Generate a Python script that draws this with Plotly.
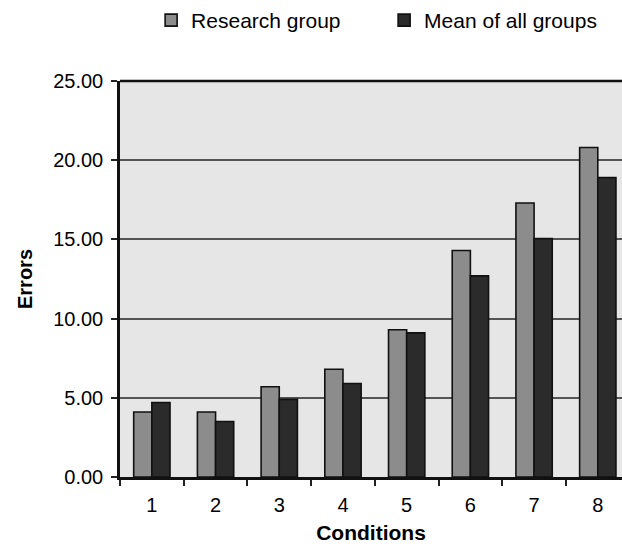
import plotly.graph_objects as go

conditions = ["1", "2", "3", "4", "5", "6", "7", "8"]
research_group = [4.1, 4.1, 5.7, 6.8, 9.3, 14.3, 17.3, 20.8]
mean_all_groups = [4.7, 3.5, 4.9, 5.9, 9.1, 12.7, 15.05, 18.9]
y_ticks = [0, 5, 10, 15, 20, 25]

font = "Liberation Sans, Arial, sans-serif"

fig = go.Figure()
fig.add_trace(go.Bar(
    x=conditions, y=research_group, name="Research group",
    marker=dict(color="#8c8c8c", line=dict(color="#111111", width=1.6)),
))
fig.add_trace(go.Bar(
    x=conditions, y=mean_all_groups, name="Mean of all groups",
    marker=dict(color="#2b2b2b", line=dict(color="#111111", width=1.6)),
))

fig.update_layout(
    width=622, height=550,
    margin=dict(l=120, r=0, t=80, b=73),
    paper_bgcolor="white", plot_bgcolor="#e6e6e6",
    barmode="group", bargap=0.43, bargroupgap=0,
    font=dict(family=font, size=21, color="black"),
    legend=dict(orientation="h", x=0.062, xanchor="left", y=1.154, yanchor="middle",
                entrywidth=188, entrywidthmode="pixels", itemwidth=30,
                font=dict(size=21), bgcolor="rgba(0,0,0,0)"),
    showlegend=True,
)
fig.update_xaxes(
    type="category", range=[-0.5, 7.38], tickson="boundaries",
    ticks="outside", ticklen=6, tickwidth=1.5, tickcolor="#222",
    showline=True, linecolor="#111", linewidth=2.5, showgrid=False,
    ticklabelstandoff=8,
    title=dict(text="<b>Conditions</b>", standoff=11, font=dict(size=21)),
    tickfont=dict(size=20),
)
fig.update_yaxes(
    range=[0, 25], tickvals=y_ticks, tickformat=".2f",
    ticks="outside", ticklen=6, tickwidth=1.5, tickcolor="#222",
    showline=True, linecolor="#111", linewidth=2.5, ticklabelstandoff=4,
    showgrid=True, gridcolor="#555555", gridwidth=1.5, zeroline=False,
    title=dict(text="<b>Errors</b>", standoff=16, font=dict(size=20)),
    tickfont=dict(size=20),
)
fig.add_shape(type="line", xref="paper", yref="paper", x0=0, x1=1, y0=1, y1=1,
              line=dict(color="#111", width=2.5))

fig.write_html("out.html")
